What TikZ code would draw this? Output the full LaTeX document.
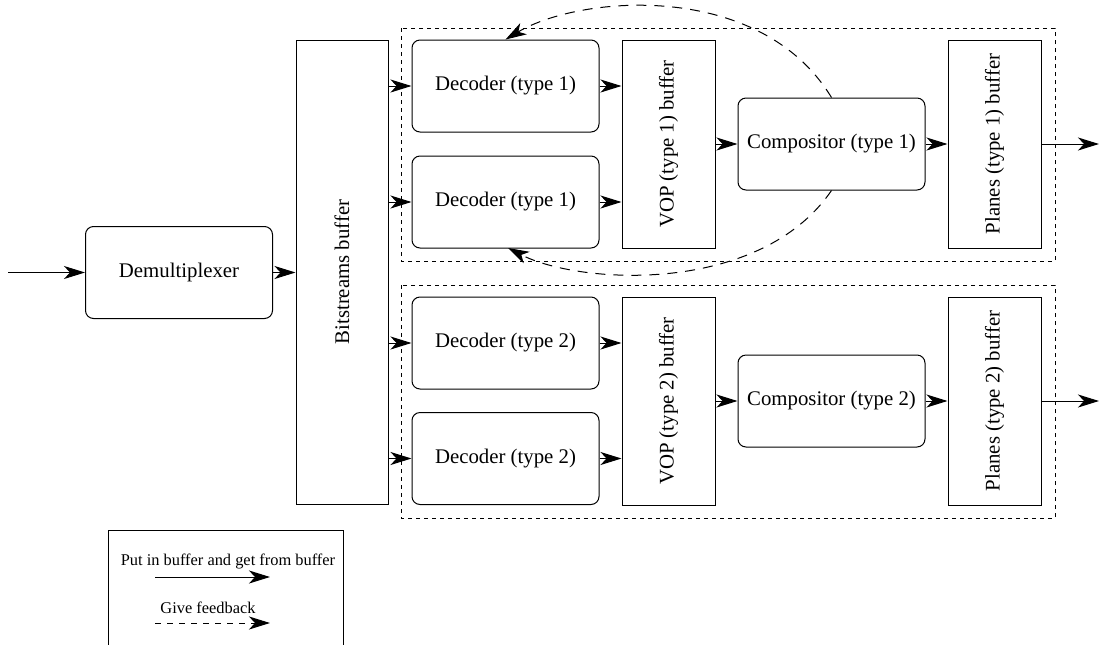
\documentclass[tikz,border=0pt]{standalone}
\usepackage{fontspec}
\setmainfont{Liberation Serif}
\usetikzlibrary{arrows.meta}
\begin{document}
\begin{tikzpicture}[x=0.5pt,y=-0.5pt,
  every node/.style={font=\fontsize{10.4}{12.5}\selectfont, inner sep=0pt},
  rbox/.style={draw, line width=0.5pt, rounded corners=4pt, minimum width=93.5pt, minimum height=46pt},
  tall/.style={draw, line width=0.5pt, minimum width=46.5pt, minimum height=104pt},
  grp/.style={draw, line width=0.5pt, dash pattern=on 2pt off 2pt},
  arr/.style={line width=0.5pt, -{Stealth[length=10.5pt, width=6.5pt, inset=3pt, fill=black]}},
  fb/.style={arr, dash pattern=on 5pt off 4pt},
  vtext/.style={rotate=90}]
\useasboundingbox (0,0) rectangle (1100,644);
% groups
\draw[grp] (401,28) rectangle (1055,261);
\draw[grp] (401,285) rectangle (1055,518);
% nodes
\coordinate (in) at (8,272.5);
\node[rbox] (demux) at (179,272.5) {Demultiplexer};
\node[draw, line width=0.5pt, minimum width=46pt, minimum height=232pt] (bit) at (342,272) {};
\node[vtext] at (bit) {Bitstreams buffer};
\node[rbox] (d1a) at (505.5,86) {Decoder (type 1)};
\node[rbox] (d1b) at (505.5,202) {Decoder (type 1)};
\node[rbox] (d2a) at (505.5,343) {Decoder (type 2)};
\node[rbox] (d2b) at (505.5,458.5) {Decoder (type 2)};
\node[tall] (vop1) at (668.5,144) {};
\node[vtext] at (vop1) {VOP (type 1) buffer};
\node[tall] (vop2) at (668.5,401) {};
\node[vtext] at (vop2) {VOP (type 2) buffer};
\node[rbox] (c1) at (831.5,144) {Compositor (type 1)};
\node[rbox] (c2) at (831.5,401) {Compositor (type 2)};
\node[tall] (p1) at (994.5,144) {};
\node[vtext] at (p1) {Planes (type 1) buffer};
\node[tall] (p2) at (994.5,401) {};
\node[vtext] at (p2) {Planes (type 2) buffer};
\coordinate (o1) at (1099,144);
\coordinate (o2) at (1099,401);
% connectors
\draw[arr] (in) -- (demux);
\draw[arr] (demux) -- (bit.west |- demux.east);
\foreach \d in {d1a,d1b,d2a,d2b}{
  \draw[arr] (bit.east |- \d.west) -- (\d.west);
}
\draw[arr] (d1a.east) -- (vop1.west |- d1a.east);
\draw[arr] (d1b.east) -- (vop1.west |- d1b.east);
\draw[arr] (d2a.east) -- (vop2.west |- d2a.east);
\draw[arr] (d2b.east) -- (vop2.west |- d2b.east);
\draw[arr] (vop1) -- (c1);
\draw[arr] (vop2) -- (c2);
\draw[arr] (c1) -- (p1);
\draw[arr] (c2) -- (p2);
\draw[arr] (p1.east) -- (o1);
\draw[arr] (p2.east) -- (o2);
% feedback
\draw[fb] (c1.north) .. controls (760,-20) and (580,-5) .. (d1a.north);
\draw[fb] (c1.south) .. controls (760,295) and (580,285) .. (508,248);
% legend
\node[draw, line width=0.5pt, minimum width=117.5pt, minimum height=62pt, anchor=north west] (leg) at (108,530) {};
\node[font=\fontsize{8.2}{10}\selectfont] (l1) at (228,561) {Put in buffer and get from buffer};
\coordinate (l1a) at (155,577);
\coordinate (l1b) at (270,577);
\draw[arr] (l1a) -- (l1b);
\node[font=\fontsize{8.2}{10}\selectfont] (l2) at (208,608) {Give feedback};
\coordinate (l2a) at (155,623);
\coordinate (l2b) at (270,623);
\draw[arr, dash pattern=on 3pt off 3pt] (l2a) -- (l2b);
\end{tikzpicture}
\end{document}
